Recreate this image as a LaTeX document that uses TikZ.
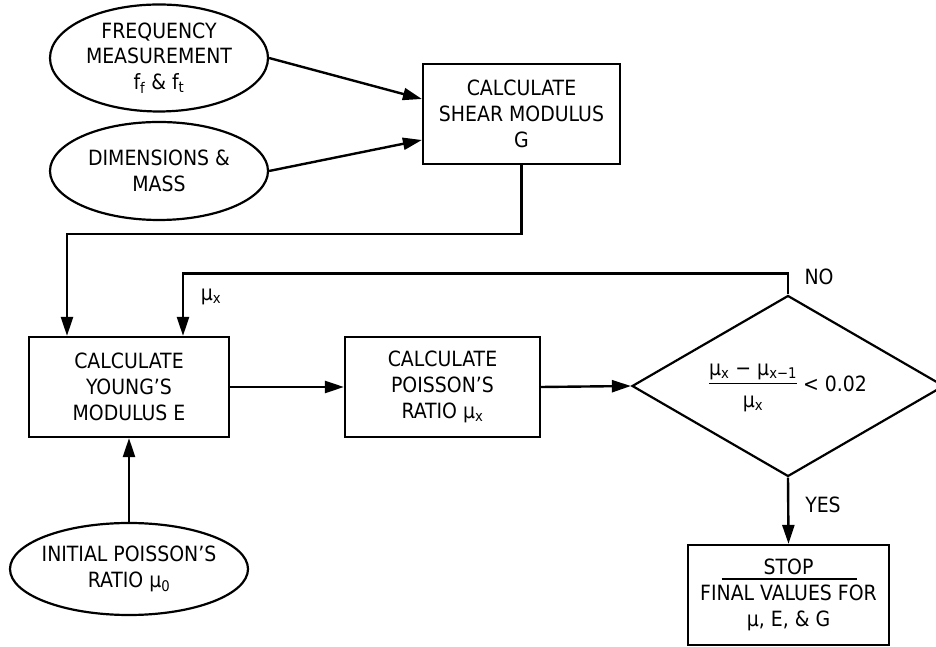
\documentclass[tikz,border=0pt]{standalone}
\usepackage{fontspec}
\setmainfont{DejaVu Sans Condensed}
\usetikzlibrary{arrows.meta,shapes.geometric}

\begin{document}
\begin{tikzpicture}[x=1pt, y=1pt,
        font=\fontsize{21}{25.7}\selectfont,
        calcbox/.style={draw, line width=2.2pt, minimum height=100pt, align=center, inner sep=0pt},
        inputnode/.style={draw, ellipse, line width=2.2pt, align=center, inner sep=0pt},
        decision/.style={draw, diamond, line width=2.2pt, aspect=1.72, inner sep=0pt,
            minimum width=312pt, minimum height=181pt},
        flow/.style={line width=2.4pt, -{Triangle[length=19pt,width=12pt]}}]
        \useasboundingbox (0,0) rectangle (936,647);
        % Draw inputs
        \node[inputnode, minimum width=218pt, minimum height=107pt] (freq) at (159,589)
            {FREQUENCY\\MEASUREMENT\\f\textsubscript{f} \& f\textsubscript{t}};
        \node[inputnode, minimum width=218pt, minimum height=98pt] (dims) at (159,476)
            {DIMENSIONS \&\\MASS};
        \node[inputnode, minimum width=238pt, minimum height=92pt, inner xsep=-4pt] (init) at (129,78)
            {INITIAL POISSON’S\\RATIO μ\textsubscript{0}};
        % Draw calculation boxes
        \node[calcbox, minimum width=197pt] (shear) at (521.5,533)
            {CALCULATE\\SHEAR MODULUS\\G};
        \node[calcbox, minimum width=200pt] (young) at (129,260)
            {CALCULATE\\YOUNG’S\\MODULUS E};
        \node[calcbox, minimum width=195pt] (poisson) at (442.5,260)
            {CALCULATE\\POISSON’S\\RATIO μ\textsubscript{x}};
        % Draw convergence test
        \node[decision] (test) at (788,261)
            {\begin{tabular}{@{}c@{}}μ\textsubscript{x} − μ\textsubscript{x−1}\\[0pt]\hline
            \rule{0pt}{24pt}μ\textsubscript{x}\end{tabular} {<} 0.02};
        % Draw final box
        \node[calcbox, minimum width=201pt] (stop) at (788.5,52)
            {STOP\\FINAL VALUES FOR\\μ, E, \& G};
        \draw[line width=1.6pt] ([xshift=-67pt,yshift=16pt]stop.center) -- ([xshift=68pt,yshift=16pt]stop.center);
        % Draw connectors
        \draw[flow] (freq.east) -- ([yshift=15pt]shear.west);
        \draw[flow] (dims.east) -- ([yshift=-26pt]shear.west);
        \draw[flow] (shear.south) -- ++(0,-69) -| ([xshift=-62pt]young.north);
        \draw[flow] (young.east) -- (poisson.west);
        \draw[flow] (poisson.east) -- (test.west);
        \draw[flow] (test.north) -- ++(0,21) -| ([xshift=54pt]young.north);
        \draw[flow] (test.south) -- (stop.north);
        \draw[flow] (init.north) -- (young.south);
        % Label branches
        \node (no) at (819,370) {NO};
        \node (yes) at (823,142) {YES};
        \node (mux) at (211,350) {μ\textsubscript{x}};
    \end{tikzpicture}
\end{document}
